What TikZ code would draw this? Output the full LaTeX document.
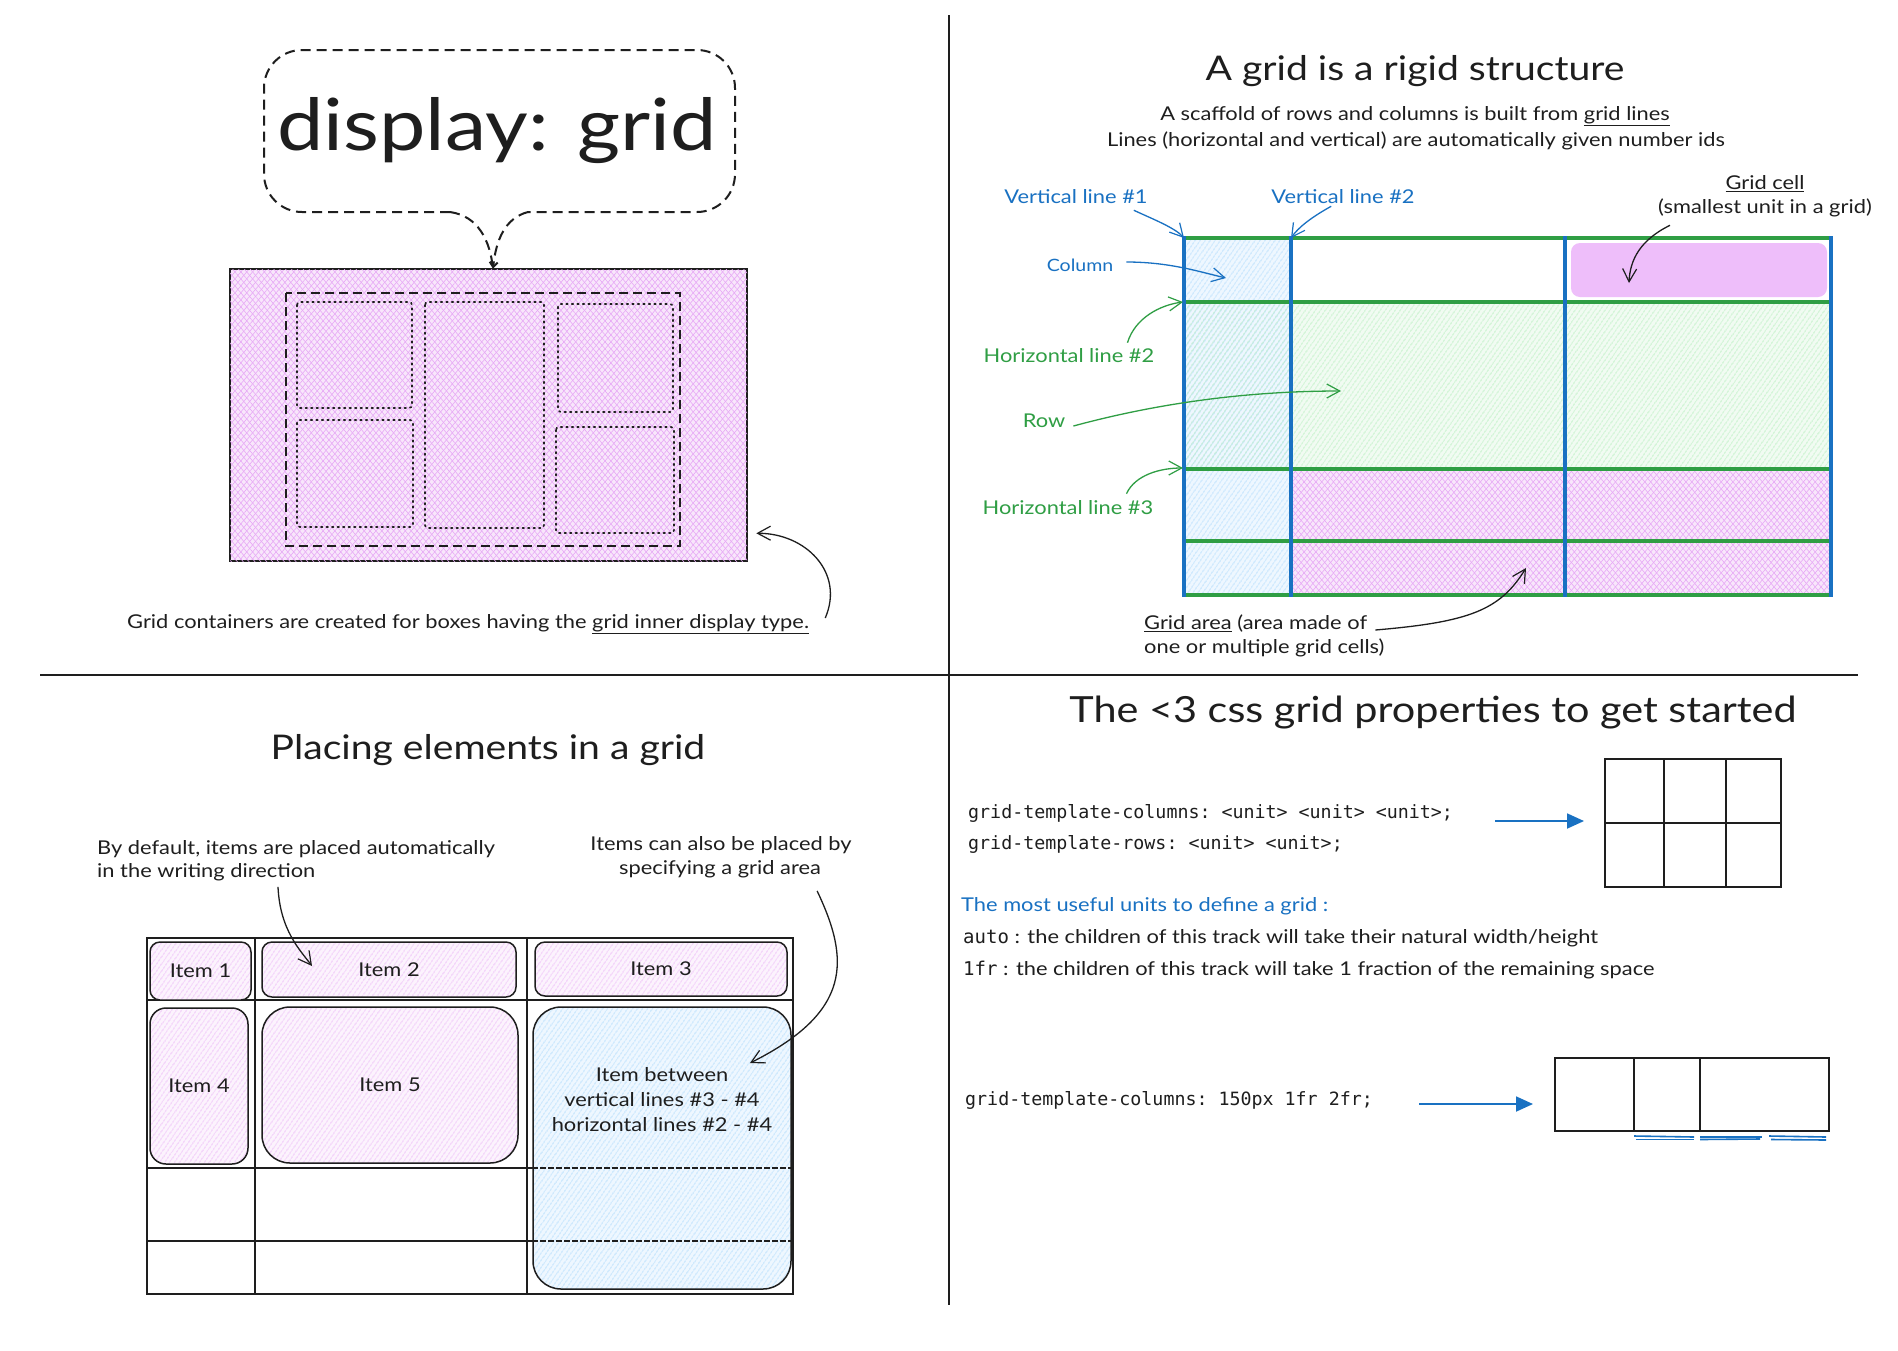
\documentclass[tikz,border=0pt]{standalone}
\usepackage{fontspec}
\setmainfont{Lato}[FakeStretch=1.15]
\setmonofont{DejaVu Sans Mono}
\usetikzlibrary{arrows.meta,patterns.meta,calc}
\definecolor{ink}{HTML}{1E1E1E}
\definecolor{exblue}{HTML}{1971C2}
\definecolor{exgreen}{HTML}{2F9E44}
\definecolor{expink}{HTML}{EEBEFA}
\definecolor{hpink}{HTML}{E7A8F6}
\definecolor{pinkbg}{HTML}{F8E6FB}
\definecolor{hblue}{HTML}{9DD3FC}
\definecolor{bluebg}{HTML}{EEF7FF}
\definecolor{hgreen}{HTML}{A6EBB0}
\definecolor{greenbg}{HTML}{F1FBF2}
\definecolor{ipinkbg}{HTML}{FCF3FD}
\begin{document}
\begin{tikzpicture}[x=1pt,y=-1pt,
  lbl/.style={inner sep=0pt, text=ink, font=\fontsize{19}{25}\selectfont},
  ttl/.style={inner sep=0pt, text=ink, font=\fontsize{34}{40}\selectfont},
  code/.style={inner sep=0pt, text=ink, font=\ttfamily\fontsize{18.3}{24}\selectfont},
  harr/.style={-{Straight Barb[length=13pt,width=14pt,line width=1.2pt]}, line width=1.3pt},
  barr/.style={-{Triangle[length=17pt,width=15pt]}, exblue, line width=1.8pt},
  pinkx/.style={preaction={fill=pinkbg},
     pattern={Lines[angle=50,distance=4.5pt,line width=0.6pt]}, pattern color=hpink,
     postaction={pattern={Lines[angle=-50,distance=4.5pt,line width=0.6pt]}, pattern color=hpink}},
  pinkh/.style={preaction={fill=ipinkbg},
     pattern={Lines[angle=55,distance=4pt,line width=0.6pt]}, pattern color=hpink},
  blueh/.style={preaction={fill=bluebg},
     pattern={Lines[angle=55,distance=4pt,line width=0.7pt]}, pattern color=hblue},
  greenh/.style={pattern={Lines[angle=55,distance=4pt,line width=0.7pt]}, pattern color=hgreen},
  itembox/.style={draw=ink, line width=1.5pt, rounded corners=10pt, lbl, pinkh, align=center},
]
\useasboundingbox (0,0) rectangle (1898,1350);
\fill[white] (0,0) rectangle (1898,1350);

% ---------------- dividers
\draw[ink, line width=2pt] (949,15) -- (949,1305);
\draw[ink, line width=2pt] (40,675) -- (1858,675);

% ---------------- top-left
\node[draw=ink, line width=1.8pt, pinkx, minimum width=517pt, minimum height=292pt, inner sep=0pt] (pbox) at (488.5,415) {};
\draw[ink, line width=1.7pt, dash pattern=on 9pt off 5pt] (286,293) rectangle (680,546);
\begin{scope}[ink, line width=1.7pt, dash pattern=on 1.5pt off 4pt, line cap=round, rounded corners=3pt]
  \draw (297,302) rectangle (412,408);
  \draw (297,420) rectangle (413,527);
  \draw (425,302) rectangle (544,528);
  \draw (558,304) rectangle (673,412);
  \draw (556,427) rectangle (674,533);
\end{scope}
\node[inner sep=0pt, text=ink, font=\fontsize{72}{80}\selectfont] (disp) at (497,131) {display: grid};
\coordinate (tailtip) at ($(pbox.north)+(4.5,0)$);
\draw[ink, line width=2pt, dash pattern=on 10pt off 6pt, rounded corners=38pt]
  (450,212) -- (264,212) -- (264,50) -- (735,50) -- (735,212) -- (528,212);
\draw[ink, line width=2pt, dash pattern=on 10pt off 6pt] (450,212) .. controls (478,216) and (490,240) .. (tailtip);
\draw[ink, line width=2pt, dash pattern=on 10pt off 6pt, -{Straight Barb[length=5pt,width=8pt]}] (528,212) .. controls (505,218) and (496,240) .. (tailtip);
\node[lbl, anchor=west] (cap) at (127,624) {Grid containers are created for boxes having the \underline{grid inner display type.}};
\coordinate (pboxtip) at ($(pbox.south east)+(9,-28)$);
\draw[harr, ink] ($(cap.east)+(16,-6)$) .. controls (845,572) and (805,533) .. (pboxtip);

% ---------------- top-right
\node[ttl] (t2) at (1415,71) {A grid is a rigid structure};
\node[lbl] (sub1) at (1415,116) {A scaffold of rows and columns is built from \underline{grid lines}};
\node[lbl] (sub2) at (1416,141) {Lines (horizontal and vertical) are automatically given number ids};

\path[blueh] (1184,238) rectangle (1291,595);
\fill[greenbg] (1291,302) rectangle (1831,469);
\path[greenh] (1184,302) rectangle (1831,469);
\path[pinkx] (1291,469) rectangle (1831,595);
\node[fill=expink, rounded corners=9pt, minimum width=256pt, minimum height=54pt, inner sep=0pt] (cell) at (1699,270) {};
\foreach \yy in {238,302,469,541,595} \draw[exgreen, line width=3.4pt] (1184,\yy) -- (1831,\yy);
\foreach \xx in {1184,1291,1565,1831} \draw[exblue, line width=3.4pt] (\xx,236) -- (\xx,597);
\coordinate (v1t) at (1184,238);
\coordinate (v2t) at (1291,238);
\coordinate (colt) at (1226,278);
\coordinate (h2t) at (1183,302);
\coordinate (rowt) at (1341,391);
\coordinate (h3t) at (1183,468);
\coordinate (cellt) at (1629,283);
\coordinate (areat) at (1526,568);

\node[lbl, text=exblue] (v1) at (1076,197) {Vertical line \#1};
\node[lbl, text=exblue] (v2) at (1343,197) {Vertical line \#2};
\node[lbl, text=exblue, font=\fontsize{17}{22}\selectfont] (col) at (1080,265) {Column};
\draw[harr, exblue] ($(v1.south east)+(-14,6)$) .. controls (1155,220) and (1175,228) .. (v1t);
\draw[harr, exblue] ($(v2.south west)+(60,2)$) .. controls (1310,218) and (1298,228) .. (v2t);
\draw[harr, exblue] ($(col.east)+(13,-3)$) .. controls (1170,262) and (1200,272) .. (colt);

\node[lbl, text=exgreen] (h2) at (1069,356) {Horizontal line \#2};
\node[lbl, text=exgreen] (row) at (1044,421) {Row};
\node[lbl, text=exgreen] (h3) at (1068,508) {Horizontal line \#3};
\draw[harr, exgreen] ($(h2.north east)+(-27,-6)$) .. controls (1135,318) and (1160,305) .. (h2t);
\draw[harr, exgreen] ($(row.east)+(8,5)$) .. controls (1140,408) and (1230,391) .. (rowt);
\draw[harr, exgreen] ($(h3.north east)+(-27,-7)$) .. controls (1135,475) and (1160,468) .. (h3t);

\node[lbl] (gc) at (1765,184) {\underline{Grid cell}};
\node[lbl] (gc2) at (1765,208) {(smallest unit in a grid)};
\draw[harr, ink] ($(gc2.south west)+(12,8)$) .. controls (1640,240) and (1630,260) .. (cellt);

\node[lbl, anchor=west] (ga1) at (1144,624) {\underline{Grid area} (area made of};
\node[lbl, anchor=west] (ga2) at (1144,648) {one or multiple grid cells)};
\draw[harr, ink] ($(ga1.east)+(8,6)$) .. controls (1470,622) and (1500,610) .. (areat);

% ---------------- bottom-left
\node[ttl] (t3) at (488,750) {Placing elements in a grid};
\node[lbl, anchor=west] (bd1) at (97,849) {By default, items are placed automatically};
\node[lbl, anchor=west] (bd2) at (97,872) {in the writing direction};
\node[lbl] (ic1) at (721,845) {Items can also be placed by};
\node[lbl] (ic2) at (720,869) {specifying a grid area};

\begin{scope}[ink, line width=1.5pt]
  \draw (147,938) rectangle (793,1294);
  \draw (255,938) -- (255,1294);
  \draw (527,938) -- (527,1294);
  \draw (147,1000) -- (793,1000);
  \draw (147,1168) -- (533,1168);
  \draw (147,1241) -- (533,1241);
\end{scope}

\node[itembox, minimum width=101pt, minimum height=58pt] (i1) at (200.5,971) {Item 1};
\node[itembox, minimum width=254pt, minimum height=55pt] (i2) at (389,969.5) {Item 2};
\node[itembox, minimum width=252pt, minimum height=54pt] (i3) at (661,969) {Item 3};
\node[itembox, rounded corners=16pt, minimum width=98pt, minimum height=156pt] (i4) at (199,1086) {Item 4};
\node[itembox, rounded corners=28pt, minimum width=256pt, minimum height=156pt] (i5) at (390,1085) {Item 5};
\node[itembox, blueh, rounded corners=28pt, minimum width=258pt, minimum height=282pt] (ib) at (662,1148) {};
\node[lbl, align=center] (ibt) at (662,1100) {Item between\\vertical lines \#3 - \#4\\horizontal lines \#2 - \#4};
\draw[ink, line width=1.5pt, dash pattern=on 6pt off 2pt] (ib.west |- 0,1168) -- (ib.east |- 0,1168);
\draw[ink, line width=1.5pt, dash pattern=on 6pt off 2pt] (ib.west |- 0,1241) -- (ib.east |- 0,1241);

\coordinate (i2t) at (312,966);
\coordinate (ibtip) at (750,1063);
\draw[harr, ink] ($(bd2.south west)+(181,6)$) .. controls (280,930) and (300,950) .. (i2t);
\draw[harr, ink] ($(ic2.south east)+(-4,13)$) .. controls (850,960) and (852,1012) .. (ibtip);

% ---------------- bottom-right
\node[ttl, font=\fontsize{36}{42}\selectfont] (t4) at (1433,713) {The <3 css grid properties to get started};
\node[code, anchor=west] (c1) at (968,813) {grid-template-columns: <unit> <unit> <unit>;};
\node[code, anchor=west] (c2) at (968,844) {grid-template-rows: <unit> <unit>;};

\node[draw=ink, line width=2pt, minimum width=176pt, minimum height=128pt, inner sep=0pt] (g1) at (1693,823) {};
\draw[ink, line width=2pt] (1664,759) -- (1664,887);
\draw[ink, line width=2pt] (1726,759) -- (1726,887);
\draw[ink, line width=2pt] (g1.west) -- (g1.east);
\draw[barr, shorten >=20pt] ($(c1.east)+(42,8)$) -- (g1.west |- 0,821);

\node[lbl, text=exblue, anchor=west] (mu) at (961,906) {The most useful units to define a grid :};
\node[lbl, anchor=west] (au) at (963,938) {{\ttfamily auto} : the children of this track will take their natural width/height};
\node[lbl, anchor=west] (fr) at (963,970) {{\ttfamily 1fr} : the children of this track will take 1 fraction of the remaining space};

\node[code, anchor=west] (c3) at (965,1100) {grid-template-columns: 150px 1fr 2fr;};
\node[draw=ink, line width=2pt, minimum width=274pt, minimum height=73pt, inner sep=0pt] (g2) at (1692,1094.5) {};
\draw[ink, line width=2pt] (1634,1058) -- (1634,1131);
\draw[ink, line width=2pt] (1700,1058) -- (1700,1131);
\coordinate (g2a) at (1533,1104);
\draw[barr] ($(c3.east)+(46,4)$) -- (g2a);
\begin{scope}[exblue, line width=1.6pt]
  \draw (1634,1136) -- (1694,1137); \draw (1636,1139.5) -- (1694,1139.5);
  \draw (1700,1137) -- (1762,1137); \draw (1700,1139.5) -- (1760,1139);
  \draw (1769,1136) -- (1826,1137); \draw (1771,1139.5) -- (1826,1140);
\end{scope}
\end{tikzpicture}
\end{document}
